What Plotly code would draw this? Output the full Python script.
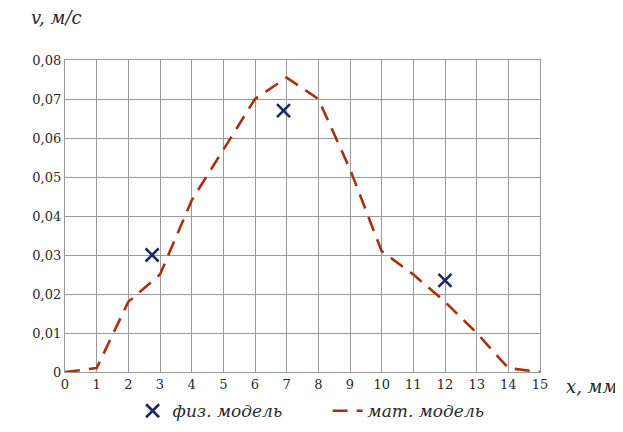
import plotly.graph_objects as go

x_math = [0, 1, 2, 3, 4, 5, 6, 7, 8, 9, 10, 11, 12, 13, 14, 15]
v_math = [0, 0.001, 0.018, 0.025, 0.044, 0.057, 0.070, 0.0755, 0.070, 0.052, 0.031, 0.025, 0.018, 0.010, 0.001, 0]
x_phys = [2.75, 6.9, 12.0]
v_phys = [0.030, 0.067, 0.0235]
x_ticks = list(range(0, 16))
y_ticks = [0, 0.01, 0.02, 0.03, 0.04, 0.05, 0.06, 0.07, 0.08]
y_ticktext = ["0", "0,01", "0,02", "0,03", "0,04", "0,05", "0,06", "0,07", "0,08"]

serif = "DejaVu Serif"
grid = "#9a9a9a"
txt = "#2a2a2a"

fig = go.Figure()
fig.add_trace(go.Scatter(
    x=x_phys, y=v_phys, mode="markers", name="<i>физ. модель</i>",
    marker=dict(symbol="x-thin", size=13, line=dict(width=2.6, color="#1c2866"), color="#1c2866"),
))
fig.add_trace(go.Scatter(
    x=x_math, y=v_math, mode="lines", name="<i>мат. модель</i>",
    line=dict(color="#a8300f", width=2.6, dash="15px,9px"),
))

fig.update_layout(
    width=623, height=432,
    margin=dict(l=57, r=91, t=52, b=68),
    plot_bgcolor="white", paper_bgcolor="white",
    font=dict(family=serif, size=13, color=txt),
    xaxis=dict(range=[0, 15], tickvals=x_ticks, ticktext=[str(t) for t in x_ticks],
               showgrid=True, gridcolor=grid, gridwidth=1.3, zeroline=False,
               showline=True, linecolor=grid, linewidth=1.3, mirror=True, automargin=False,
               ticks="", ticklen=0, tickfont=dict(size=13, family=serif, color=txt)),
    yaxis=dict(range=[0, 0.08], tickvals=y_ticks, ticktext=y_ticktext,
               showgrid=True, gridcolor=grid, gridwidth=1.3, zeroline=False,
               showline=True, linecolor=grid, linewidth=1.3, mirror=True, automargin=False,
               ticks="", tickfont=dict(size=13, family=serif, color=txt)),
    legend=dict(orientation="h", x=0.2, xanchor="left", xref="container",
                y=0.025, yanchor="bottom", yref="container",
                font=dict(size=17, family=serif, color=txt),
                entrywidth=150, entrywidthmode="pixels"),
    showlegend=True,
    annotations=[
        dict(text="<i>v, м/с</i>", xref="paper", yref="paper", x=-0.075, y=1.095,
             xanchor="left", yanchor="bottom", showarrow=False,
             font=dict(size=18, family=serif, color=txt)),
        dict(text="<i>x, мм</i>", xref="paper", yref="paper", x=1.05, y=-0.005,
             xanchor="left", yanchor="top", showarrow=False,
             font=dict(size=18, family=serif, color=txt)),
    ],
)
fig.write_html("out.html")
